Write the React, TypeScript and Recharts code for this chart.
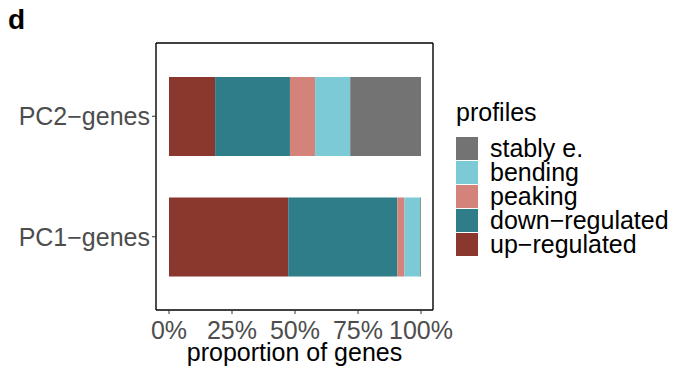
import React from 'react';
import {
  BarChart,
  Bar,
  XAxis,
  YAxis,
  CartesianGrid,
  Legend
} from 'recharts';

// categories (top to bottom) and stacked proportions per profile
const groups = ['PC2\u2212genes', 'PC1\u2212genes'];
const upRegulated = [0.183, 0.473];
const downRegulated = [0.297, 0.433];
const peaking = [0.1, 0.028];
const bending = [0.139, 0.063];
const stablyE = [0.281, 0.003];

const xTicks = [0, 0.25, 0.5, 0.75, 1];

// stacking order from the left
const profiles = [
  { key: 'up', label: 'up\u2212regulated', color: '#8A372E', values: upRegulated },
  { key: 'down', label: 'down\u2212regulated', color: '#2E7D88', values: downRegulated },
  { key: 'peaking', label: 'peaking', color: '#D4837A', values: peaking },
  { key: 'bending', label: 'bending', color: '#7CCAD6', values: bending },
  { key: 'stably', label: 'stably e.', color: '#737373', values: stablyE }
];

const data = groups.map((name, i) => {
  const row: { [k: string]: string | number } = { name };
  profiles.forEach((p) => {
    row[p.key] = p.values[i];
  });
  return row;
});

const font = '"Liberation Sans", Arial, Helvetica, sans-serif';
const fs = 25;

const ProfileLegend = () => (
  <div style={{ fontFamily: font, color: '#000' }}>
    <div style={{ fontSize: fs, lineHeight: '24px', height: 24, marginBottom: 12 }}>profiles</div>
    {[...profiles].reverse().map((p) => (
      <div key={p.key} style={{ display: 'flex', alignItems: 'center', height: 24 }}>
        <div style={{ width: 22, height: 23, background: p.color }} />
        <span style={{ fontSize: fs, lineHeight: '24px', marginLeft: 12, whiteSpace: 'nowrap' }}>{p.label}</span>
      </div>
    ))}
  </div>
);

export default function App() {
  return (
    <div style={{ position: 'absolute', left: 0, top: 0, width: 675, height: 372, background: '#fff', fontFamily: font }}>
      <div style={{ position: 'absolute', left: 8, top: 4, fontSize: 28, fontWeight: 'bold' }}>d</div>
      <BarChart
        width={675}
        height={372}
        data={data}
        layout="vertical"
        margin={{ top: 43, right: 242, bottom: 0, left: 0 }}
      >
        <CartesianGrid
          stroke="#000"
          strokeWidth={1.4}
          horizontalCoordinatesGenerator={({ offset }: any) => [offset.top, offset.top + offset.height]}
          verticalCoordinatesGenerator={({ offset }: any) => [offset.left, offset.left + offset.width]}
        />
        <XAxis
          type="number"
          domain={[0, 1]}
          ticks={xTicks}
          padding={{ left: 13, right: 12 }}
          height={62}
          axisLine={false}
          tickLine={{ stroke: '#333' }}
          tickSize={4}
          tickMargin={7}
          tick={{ fill: '#4D4D4D', fontSize: fs, fontFamily: font }}
          tickFormatter={(v: number) => `${Math.round(v * 100)}%`}
          interval={0}
          label={{ value: 'proportion of genes', position: 'insideBottom', offset: 11, fill: '#000', fontSize: fs, fontFamily: font }}
        />
        <YAxis
          type="category"
          dataKey="name"
          width={156}
          padding={{ top: 13, bottom: 13 }}
          axisLine={false}
          tickLine={{ stroke: '#333' }}
          tickSize={4}
          tickMargin={2}
          tick={{ fill: '#4D4D4D', fontSize: fs, fontFamily: font }}
        />
        {profiles.map((p) => (
          <Bar key={p.key} dataKey={p.key} stackId="a" fill={p.color} barSize={79} isAnimationActive={false} />
        ))}
        <Legend
          layout="horizontal"
          verticalAlign="middle"
          align="center"
          width={215}
          wrapperStyle={{ left: 456, top: 100 }}
          content={() => <ProfileLegend />}
        />
      </BarChart>
    </div>
  );
}
